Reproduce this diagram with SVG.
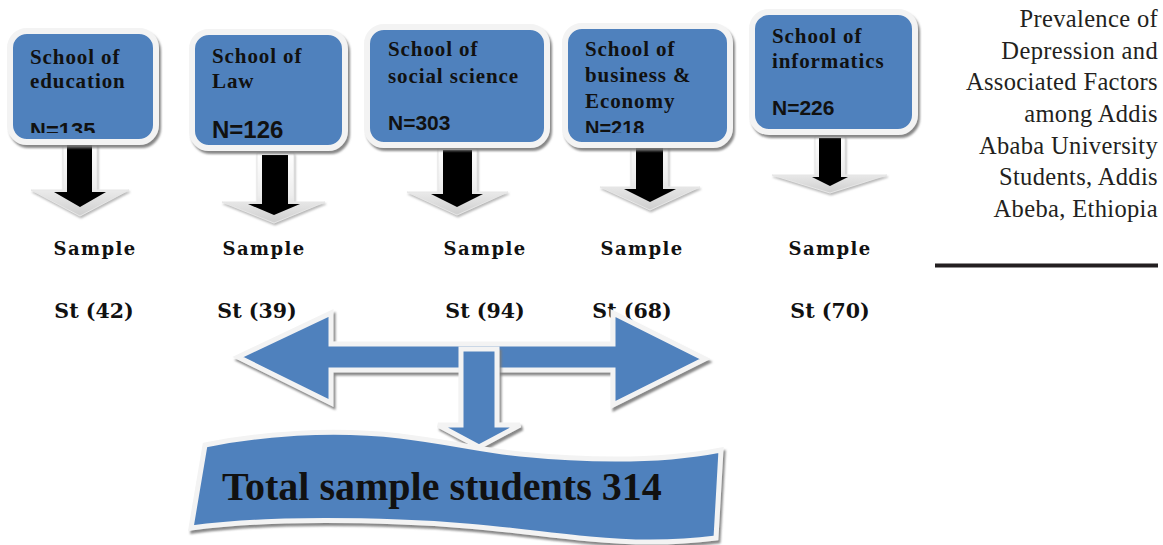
<svg xmlns="http://www.w3.org/2000/svg" width="1163" height="545" viewBox="0 0 1163 545">
<defs>
  <style>
    .box{fill:#4F81BD;stroke:#f3f3f3;stroke-width:6;filter:url(#sh)}
    .bt{font-family:"Liberation Serif",serif;font-weight:bold;font-size:21px;letter-spacing:0.9px;fill:#111}
    .nt{font-family:"Liberation Sans",Arial,sans-serif;font-weight:bold;fill:#111}
    .smp{font-family:"DejaVu Serif",serif;font-weight:bold;font-size:18px;letter-spacing:1.4px;fill:#111;text-anchor:middle}
    .st{font-family:"DejaVu Serif",serif;font-weight:bold;font-size:20.5px;fill:#111;text-anchor:middle}
    .ttl{font-family:"Liberation Serif",serif;font-size:24.5px;letter-spacing:0.35px;fill:#231f20;text-anchor:end}
    .aout{fill:url(#gh);stroke:#e6e6e6;stroke-width:1;filter:url(#sh2)}
    .ain{fill:#000}
    .blu{fill:#4F81BD;stroke:#f3f3f3;stroke-width:5;stroke-linejoin:miter;filter:url(#sh)}
  </style>
  <filter id="sh" x="-10%" y="-10%" width="125%" height="130%">
    <feDropShadow dx="2" dy="3" stdDeviation="1.2" flood-color="#7a7a7a" flood-opacity="0.9"/>
  </filter>
  <filter id="sh2" x="-10%" y="-10%" width="125%" height="130%">
    <feDropShadow dx="1" dy="2" stdDeviation="1" flood-color="#9a9a9a" flood-opacity="0.7"/>
  </filter>
  <linearGradient id="gh" x1="0" y1="0" x2="0" y2="1">
    <stop offset="0" stop-color="#ffffff"/>
    <stop offset="0.6" stop-color="#eeeeee"/>
    <stop offset="1" stop-color="#cfcfcf"/>
  </linearGradient>
  <clipPath id="c1"><rect x="10" y="30" width="150" height="103"/></clipPath>
  <clipPath id="c4"><rect x="565" y="20" width="170" height="113"/></clipPath>
</defs>

<g id="connectors">
  <g id="arrow-education">
    <polygon class="aout" points="63,143 97,143 97,190 129,190 80,216 31,190 63,190"/>
    <polygon class="ain" points="67,145 92,145 92,192 106,192 80,207 54,192 67,192"/>
  </g>
  <g id="arrow-law">
    <polygon class="aout" points="257,153 294,153 294,202 325,202 274,223 222,202 257,202"/>
    <polygon class="ain" points="262,155 288,155 288,204 300,204 274,215 248,204 262,204"/>
  </g>
  <g id="arrow-social">
    <polygon class="aout" points="438,148 477,148 477,192 508,192 457,215 407,192 438,192"/>
    <polygon class="ain" points="443,150 472,150 472,194 483,194 457,207 431,194 443,194"/>
  </g>
  <g id="arrow-business">
    <polygon class="aout" points="631,132 668,132 668,187 700,187 650,210 600,187 631,187"/>
    <polygon class="ain" points="636,134 663,134 663,189 676,189 650,202 624,189 636,189"/>
  </g>
  <g id="arrow-informatics">
    <polygon class="aout" points="815,136 845,136 845,175 887,175 830,193 772,175 815,175"/>
    <polygon class="ain" points="819,138 841,138 841,177 848,177 830,186 812,177 819,177"/>
  </g>
</g>

<g id="node-education">
  <rect class="box" x="10" y="31" width="146" height="111" rx="17"/>
  <text class="bt" x="30" y="64">School of</text>
  <text class="bt" x="30" y="88">education</text>
  <text class="nt" x="30" y="138" font-size="22" clip-path="url(#c1)">N=135</text>
</g>
<g id="node-law">
  <rect class="box" x="192" y="32" width="153" height="116" rx="17"/>
  <text class="bt" x="212" y="63">School of</text>
  <text class="bt" x="212" y="88">Law</text>
  <text class="nt" x="212" y="138" font-size="24">N=126</text>
</g>
<g id="node-social">
  <rect class="box" x="367" y="27" width="180" height="118" rx="17"/>
  <text class="bt" x="388" y="56">School of</text>
  <text class="bt" x="388" y="83">social science</text>
  <text class="nt" x="388" y="129.5" font-size="21">N=303</text>
</g>
<g id="node-business">
  <rect class="box" x="565" y="26" width="165" height="119" rx="17"/>
  <text class="bt" x="585" y="56">School of</text>
  <text class="bt" x="585" y="82">business &amp;</text>
  <text class="bt" x="585" y="108">Economy</text>
  <text class="nt" x="585" y="134.5" font-size="20" clip-path="url(#c4)">N=218</text>
</g>
<g id="node-informatics">
  <rect class="box" x="752" y="12" width="163" height="120" rx="17"/>
  <text class="bt" x="772" y="43">School of</text>
  <text class="bt" x="772" y="68">informatics</text>
  <text class="nt" x="772" y="115" font-size="21">N=226</text>
</g>

<g id="labels">
  <text class="smp" x="95" y="255">Sample</text>
  <text class="smp" x="264" y="255">Sample</text>
  <text class="smp" x="485" y="255">Sample</text>
  <text class="smp" x="642" y="255">Sample</text>
  <text class="smp" x="830" y="255">Sample</text>
  <text class="st" x="94" y="318">St (42)</text>
  <text class="st" x="257" y="318">St (39)</text>
  <text class="st" x="485" y="318">St (94)</text>
  <text class="st" x="632" y="318">St (68)</text>
  <text class="st" x="830" y="318">St (70)</text>
</g>

<g id="double-arrow">
  <polygon class="blu" points="238,357 331,313 331,344 613,344 613,313 705,359 613,405 613,370 331,370 331,403"/>
</g>
<g id="down-arrow">
  <polygon class="blu" points="461,349 497,349 497,425 520,425 479,447 438,425 461,425"/>
</g>

<g id="node-total">
  <path class="blu" d="M205,445 C260,434 330,428 400,436 C450,442 480,450 520,454 C600,462 670,460 721,450 L716,538 C670,544 630,543 590,539 C520,532 470,524 400,522 C320,519 250,520 191,528 Z"/>
  <text x="222" y="500" font-family="'Liberation Serif',serif" font-weight="bold" font-size="40" fill="#111">Total sample students 314</text>
</g>

<g id="title">
  <text class="ttl" x="1158" y="27">Prevalence of</text>
  <text class="ttl" x="1158" y="59">Depression and</text>
  <text class="ttl" x="1158" y="90">Associated Factors</text>
  <text class="ttl" x="1158" y="122">among Addis</text>
  <text class="ttl" x="1158" y="154">Ababa University</text>
  <text class="ttl" x="1158" y="185">Students, Addis</text>
  <text class="ttl" x="1158" y="217">Abeba, Ethiopia</text>
  <rect x="935" y="263.5" width="223" height="4" fill="#231f20"/>
</g>
</svg>
